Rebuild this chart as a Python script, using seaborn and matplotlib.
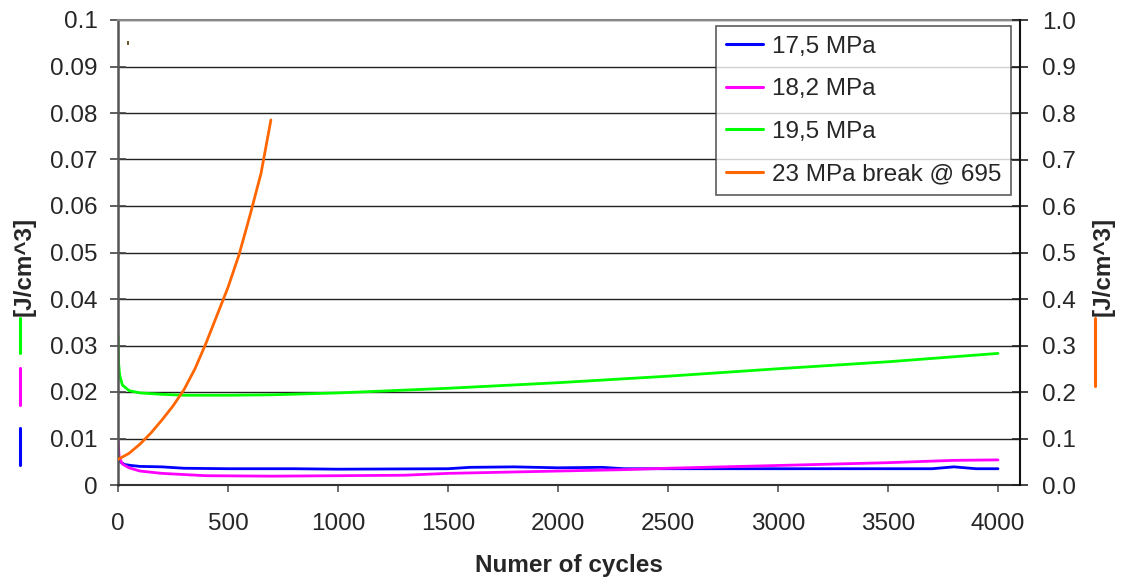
import matplotlib
matplotlib.use("Agg")
import matplotlib.pyplot as plt
import seaborn as sns
import pandas as pd
import numpy as np
from matplotlib.lines import Line2D

sns.set_theme(style="white")
plt.rcParams['font.family'] = ['Liberation Sans', 'DejaVu Sans']

# ---- data ----
x_175 = [0, 10, 30, 60, 100, 200, 300, 500, 800, 1000, 1500, 1600, 1800, 2000, 2200, 2300, 2500, 3000, 3500, 3700, 3800, 3900, 4000]
y_175 = [0.0062, 0.0050, 0.0044, 0.0042, 0.0040, 0.0039, 0.0036, 0.0035, 0.0035, 0.0034, 0.0035, 0.0038, 0.0039, 0.0037, 0.0038, 0.0035, 0.0035, 0.0035, 0.0035, 0.0035, 0.0039, 0.0035, 0.0035]

x_182 = [0, 5, 20, 50, 100, 200, 400, 700, 1000, 1300, 1500, 2000, 2300, 2500, 3000, 3500, 3800, 4000]
y_182 = [0.0098, 0.0060, 0.0045, 0.0037, 0.0030, 0.0025, 0.0020, 0.0019, 0.0020, 0.0021, 0.0025, 0.0030, 0.0033, 0.0036, 0.0042, 0.0048, 0.0053, 0.0054]

x_195 = [0, 3, 8, 20, 50, 100, 200, 300, 500, 700, 1000, 1500, 2000, 2500, 3000, 3500, 4000]
y_195 = [0.0322, 0.0260, 0.0235, 0.0215, 0.0203, 0.0198, 0.0195, 0.0193, 0.0193, 0.0194, 0.0198, 0.0208, 0.0220, 0.0234, 0.0250, 0.0265, 0.0283]

x_23 = [0, 50, 100, 150, 200, 250, 300, 350, 400, 450, 500, 550, 600, 650, 695]
y_23 = [0.055, 0.068, 0.088, 0.112, 0.140, 0.170, 0.205, 0.250, 0.305, 0.365, 0.425, 0.495, 0.580, 0.670, 0.785]

x_dot = [45]
y_dot = [0.95]

labels = ["17,5 MPa", "18,2 MPa", "19,5 MPa", "23 MPa break @ 695"]
colors = ["#0000ff", "#ff00ff", "#00ff00", "#ff6600"]

x_ticks = [0, 500, 1000, 1500, 2000, 2500, 3000, 3500, 4000]
left_ticks = [0, 0.01, 0.02, 0.03, 0.04, 0.05, 0.06, 0.07, 0.08, 0.09, 0.1]
left_ticklabels = ["0", "0.01", "0.02", "0.03", "0.04", "0.05", "0.06", "0.07", "0.08", "0.09", "0.1"]
right_ticks = [0.0, 0.1, 0.2, 0.3, 0.4, 0.5, 0.6, 0.7, 0.8, 0.9, 1.0]
right_ticklabels = ["0.0", "0.1", "0.2", "0.3", "0.4", "0.5", "0.6", "0.7", "0.8", "0.9", "1.0"]

df_left = pd.concat([
    pd.DataFrame({"x": x_175, "y": y_175, "s": labels[0]}),
    pd.DataFrame({"x": x_182, "y": y_182, "s": labels[1]}),
    pd.DataFrame({"x": x_195, "y": y_195, "s": labels[2]}),
])
df_right = pd.DataFrame({"x": x_23, "y": y_23, "s": labels[3]})

fig = plt.figure(figsize=(11.26, 5.84), dpi=100)
ax = fig.add_axes([118/1126, 1-485/584, (1020-118)/1126, (485-20)/584])
ax2 = ax.twinx()

fs = 17.5
lw = 2.0

ax.set_ylim(0, 0.1)
ax.set_xlim(0, 4100)
ax2.set_ylim(0, 1.0)

for yv in left_ticks[1:]:
    ax.axhline(yv, color="#222222", lw=1.0, zorder=0)

sns.lineplot(data=df_left, x="x", y="y", hue="s", palette=colors[:3], ax=ax,
             lw=lw, legend=False, sort=False, estimator=None)
sns.lineplot(data=df_right, x="x", y="y", hue="s", palette=[colors[3]], ax=ax2,
             lw=lw, legend=False, sort=False, estimator=None)
sns.scatterplot(x=x_dot, y=y_dot, ax=ax2, color="#5a3a10", s=6, marker="|", linewidth=1.2, legend=False)

ax.set_xticks(x_ticks)
ax.set_xticklabels([str(v) for v in x_ticks], fontsize=fs)
ax.set_yticks(left_ticks)
ax.set_yticklabels(left_ticklabels, fontsize=fs)
ax2.set_yticks(right_ticks)
ax2.set_yticklabels(right_ticklabels, fontsize=fs)

ax.tick_params(axis="y", direction="inout", length=11.5, width=1.2, color="#444444", pad=9, left=True)
ax.tick_params(axis="x", direction="out", length=5, width=1.2, color="#555555", pad=15, bottom=True)
ax2.tick_params(axis="y", direction="inout", length=11.5, width=1.2, color="#222222", pad=10, right=True)

for a in (ax, ax2):
    for side in ("left", "right", "top", "bottom"):
        a.spines[side].set_visible(True)
ax.spines["left"].set_color("#555555"); ax.spines["left"].set_linewidth(1.8)
ax.spines["bottom"].set_color("#333333"); ax.spines["bottom"].set_linewidth(1.5)
ax.spines["top"].set_color("#888888"); ax.spines["top"].set_linewidth(1.5)
ax2.spines["right"].set_color("#111111"); ax2.spines["right"].set_linewidth(1.5)
ax2.spines["top"].set_visible(False)
ax2.spines["left"].set_visible(False)
ax2.spines["bottom"].set_visible(False)

ax.set_xlabel("Numer of cycles", fontsize=fs, fontweight="bold", labelpad=14)
ax.set_ylabel("")
ax2.set_ylabel("")
fig.text(24/1126, 1-266/584, "[J/cm^3]", rotation=90, fontsize=fs, fontweight="bold", ha="center", va="center")
fig.text(1103/1126, 1-266/584, "[J/cm^3]", rotation=90, fontsize=fs, fontweight="bold", ha="center", va="center")

# colored axis keys
def vmark(xp, y0, y1, c):
    fig.add_artist(Line2D([xp/1126, xp/1126], [1-y0/584, 1-y1/584], color=c, lw=2.2, transform=fig.transFigure))
vmark(20, 318, 353, colors[2])
vmark(20, 368, 405, colors[1])
vmark(20, 428, 465, colors[0])
vmark(1095, 318, 386, colors[3])

handles = [Line2D([0], [0], color=c, lw=2.2) for c in colors]
leg = ax.legend(handles, labels, loc="upper right", bbox_to_anchor=((1011-118)/902, (485-26)/465),
                fontsize=fs, frameon=True, fancybox=False, edgecolor="#333333",
                borderaxespad=0, handlelength=1.55, labelspacing=0.84, borderpad=0.4,
                handletextpad=0.35)
leg.get_frame().set_linewidth(1.2)
leg.set_zorder(10)

fig.savefig("out.png", dpi=100, facecolor="white")
